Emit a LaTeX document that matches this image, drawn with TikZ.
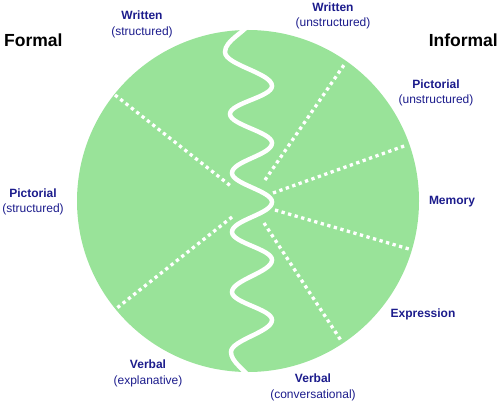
\documentclass[tikz,border=0pt]{standalone}
\usepackage{fontspec}
\setmainfont{Liberation Sans}
\definecolor{pie}{RGB}{153,227,153}
\definecolor{lab}{RGB}{28,28,140}
\begin{document}
\begin{tikzpicture}[x=1pt,y=-1pt,
  lbl/.style={text=lab,align=center,inner sep=0pt,font=\fontsize{12}{15.5}\selectfont},
  big/.style={text=black,inner sep=0pt,font=\fontsize{17.5}{20}\selectfont\bfseries},
  divider/.style={draw=white,line width=3.3pt,dash pattern=on 3.3pt off 3.5pt},
  wave/.style={draw=white,line width=4.5pt,line cap=round}]
\useasboundingbox (0,0) rectangle (500,403);
\fill[pie] (248,201) circle[radius=171pt];
% dotted dividers
\draw[divider] (115,95) -- (232,187);
\draw[divider] (232,217) -- (117,308);
\draw[divider] (265,180) -- (344,65);
\draw[divider] (273,193) -- (407,145);
\draw[divider] (275,210) -- (409,249);
\draw[divider] (264,223) -- (342,342);
% wavy line
\draw[wave] (250,22) .. controls (246,32) and (225,40) .. (225,52)
  .. controls (225,65) and (272,73) .. (272,86)
  .. controls (272,97) and (230,103) .. (230,114)
  .. controls (230,125) and (272,132) .. (272,143)
  .. controls (272,155) and (232,161) .. (232,173)
  .. controls (232,184) and (272,191) .. (272,202)
  .. controls (272,214) and (232,220) .. (232,232)
  .. controls (232,243) and (272,249) .. (272,260)
  .. controls (272,272) and (232,280) .. (232,292)
  .. controls (232,303) and (272,309) .. (272,320)
  .. controls (272,332) and (231,340) .. (231,352)
  .. controls (231,362) and (245,370) .. (252,380);
% titles
\node[big,anchor=west] (formal) at (4,40) {Formal};
\node[big,anchor=east] (informal) at (498,40) {Informal};
% labels
\node[lbl] (ws) at (142,24.5) {\textbf{Written}\\(structured)};
\node[lbl] (wu) at (333,16) {\textbf{Written}\\(unstructured)};
\node[lbl] (pu) at (436,93) {\textbf{Pictorial}\\(unstructured)};
\node[lbl] (ps) at (33,202) {\textbf{Pictorial}\\(structured)};
\node[lbl] (mem) at (452,202) {\textbf{Memory}};
\node[lbl] (exp) at (423,314) {\textbf{Expression}};
\node[lbl] (ve) at (148,373.5) {\textbf{Verbal}\\(explanative)};
\node[lbl] (vc) at (313,387.5) {\textbf{Verbal}\\(conversational)};
\end{tikzpicture}
\end{document}
